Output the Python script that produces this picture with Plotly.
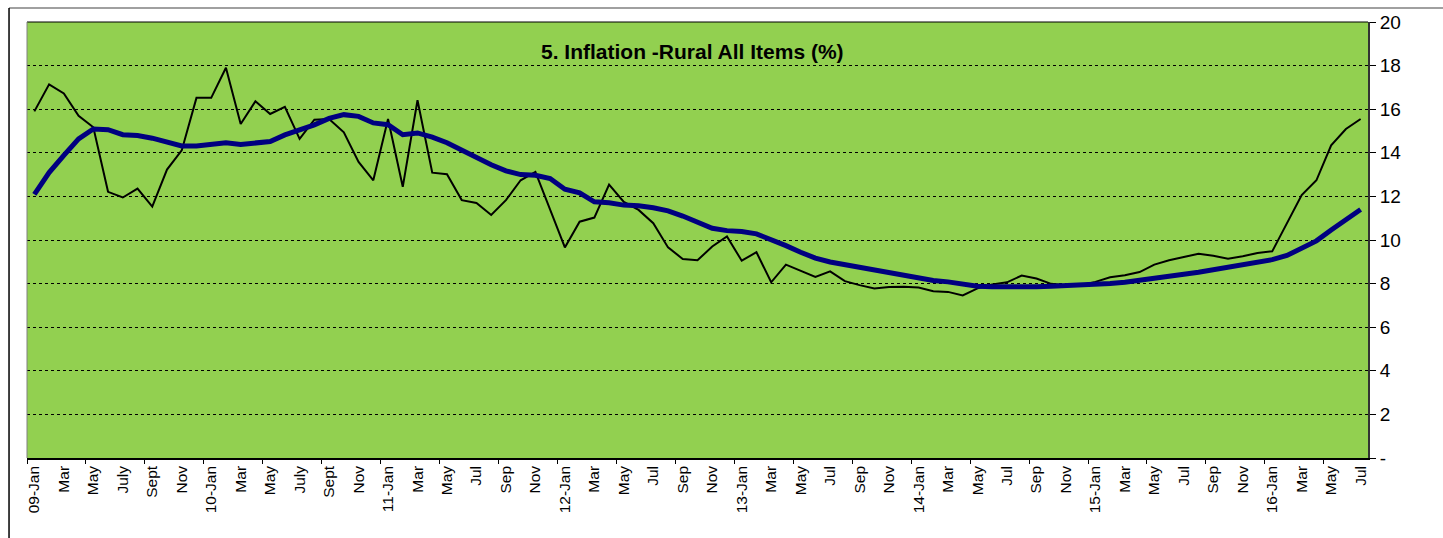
import plotly.graph_objects as go

# Monthly observations Jan-2009 .. Jul-2016 (91 months)
rural_inflation = [
    15.90, 17.14, 16.72, 15.70, 15.17, 12.21, 11.95, 12.36, 11.53, 13.23, 14.11, 16.52,
    16.52, 17.90, 15.32, 16.36, 15.78, 16.11, 14.64, 15.52, 15.55, 14.94, 13.58, 12.74,
    15.55, 12.44, 16.41, 13.09, 13.02, 11.83, 11.70, 11.15, 11.83, 12.74, 13.12, 11.42,
    9.66, 10.84, 11.03, 12.54, 11.75, 11.38, 10.77, 9.66, 9.13, 9.07, 9.70, 10.16,
    9.05, 9.44, 8.06, 8.87, 8.60, 8.31, 8.56, 8.11, 7.93, 7.78, 7.84, 7.86,
    7.82, 7.65, 7.62, 7.46, 7.78, 7.96, 8.06, 8.37, 8.23, 7.99, 7.93, 7.93,
    8.08, 8.29, 8.38, 8.53, 8.87, 9.07, 9.22, 9.37, 9.28, 9.14, 9.25, 9.40,
    9.48, 10.77, 12.06, 12.74, 14.34, 15.09, 15.55,
]
trend = [
    12.09, 13.09, 13.88, 14.64, 15.09, 15.06, 14.83, 14.79, 14.67, 14.49, 14.31, 14.31,
    14.37, 14.46, 14.38, 14.46, 14.52, 14.82, 15.02, 15.28, 15.58, 15.75, 15.67, 15.37,
    15.29, 14.83, 14.91, 14.72, 14.46, 14.11, 13.80, 13.45, 13.17, 13.00, 12.97, 12.82,
    12.33, 12.16, 11.75, 11.71, 11.60, 11.57, 11.48, 11.34, 11.10, 10.80, 10.54, 10.43,
    10.39, 10.28, 10.04, 9.74, 9.44, 9.17, 8.99, 8.87, 8.76, 8.64, 8.49, 8.36,
    8.25, 8.14, 8.08, 7.96, 7.88, 7.85, 7.84, 7.85, 7.86, 7.88, 7.90, 7.91,
    7.93, 8.00, 8.06, 8.14, 8.23, 8.32, 8.43, 8.52, 8.63, 8.73, 8.85, 8.97,
    9.10, 9.29, 9.60, 9.96, 10.46, 10.92, 11.40,
]
x_labels = [
    "09-Jan", "Mar", "May", "July", "Sept", "Nov",
    "10-Jan", "Mar", "May", "July", "Sept", "Nov",
    "11-Jan", "Mar", "May", "Jul", "Sep", "Nov",
    "12-Jan", "Mar", "May", "Jul", "Sep", "Nov",
    "13-Jan", "Mar", "May", "Jul", "Sep", "Nov",
    "14-Jan", "Mar", "May", "Jul", "Sep", "Nov",
    "15-Jan", "Mar", "May", "Jul", "Sep", "Nov",
    "16-Jan", "Mar", "May", "Jul",
]
y_ticks = [0, 2, 4, 6, 8, 10, 12, 14, 16, 18, 20]
y_ticktext = ["-", "2", "4", "6", "8", "10", "12", "14", "16", "18", "20"]
title_text = "5. Inflation -Rural All Items (%)"

n = len(rural_inflation)
xs = list(range(n))
label_pos = list(range(0, n, 2))
tick_pos = [k - 0.5 for k in range(0, n, 4)]

fig = go.Figure()
fig.add_trace(go.Scatter(x=xs, y=rural_inflation, mode="lines",
                         line=dict(color="black", width=2), showlegend=False))
fig.add_trace(go.Scatter(x=xs, y=trend, mode="lines",
                         line=dict(color="#000080", width=5), showlegend=False))
# invisible trace for tick-mark axis
fig.add_trace(go.Scatter(x=[xs[0]], y=[None], xaxis="x2", showlegend=False,
                         hoverinfo="skip"))

font_family = "Liberation Sans, Arial, sans-serif"
fig.update_layout(
    width=1443, height=538,
    margin=dict(l=27, r=75, t=19, b=80),
    paper_bgcolor="white",
    plot_bgcolor="#92D050",
    font=dict(family=font_family, color="black"),
    xaxis=dict(
        range=[-0.5, n - 0.5], tickmode="array", tickvals=label_pos, ticktext=x_labels,
        tickangle=-90, tickfont=dict(size=15.5), ticks="", showgrid=False, zeroline=False,
        showline=True, linecolor="black", linewidth=1.5,
    ),
    xaxis2=dict(
        range=[-0.5, n - 0.5], overlaying="x", side="bottom", anchor="y",
        tickmode="array", tickvals=tick_pos, ticks="outside", ticklen=5,
        tickcolor="black", tickwidth=1, showticklabels=False, showgrid=False,
        zeroline=False, showline=False,
    ),
    yaxis=dict(
        range=[0, 20], side="right", tickmode="array", tickvals=y_ticks,
        ticktext=y_ticktext, tickfont=dict(size=19), ticks="outside", ticklen=6,
        tickcolor="black", showgrid=True, gridcolor="black", griddash="dot",
        gridwidth=1, zeroline=False, showline=True, linecolor="#333333", linewidth=2,
    ),
    shapes=[
        # plot area top / left borders
        dict(type="line", xref="paper", yref="paper", x0=0, x1=1, y0=1, y1=1,
             line=dict(color="black", width=1)),
        dict(type="line", xref="paper", yref="paper", x0=0, x1=0, y0=0, y1=1,
             line=dict(color="#808080", width=1)),
        # outer chart frame
        dict(type="line", xref="paper", yref="paper", x0=-0.0134, x1=1.06,
             y0=1.0319, y1=1.0319, line=dict(color="#808080", width=1.5)),
        dict(type="line", xref="paper", yref="paper", x0=-0.0134, x1=-0.0134,
             y0=-0.2, y1=1.0319, line=dict(color="black", width=1.5)),
    ],
    annotations=[
        dict(text="<b>" + title_text + "</b>", xref="paper", yref="paper",
             x=0.4966, y=0.932, showarrow=False, font=dict(size=21, color="black"),
             xanchor="center", yanchor="middle"),
    ],
)

fig.write_html("out.html", config={"displayModeBar": False},
               post_script="document.body.style.margin='0';document.body.style.overflow='hidden';")
